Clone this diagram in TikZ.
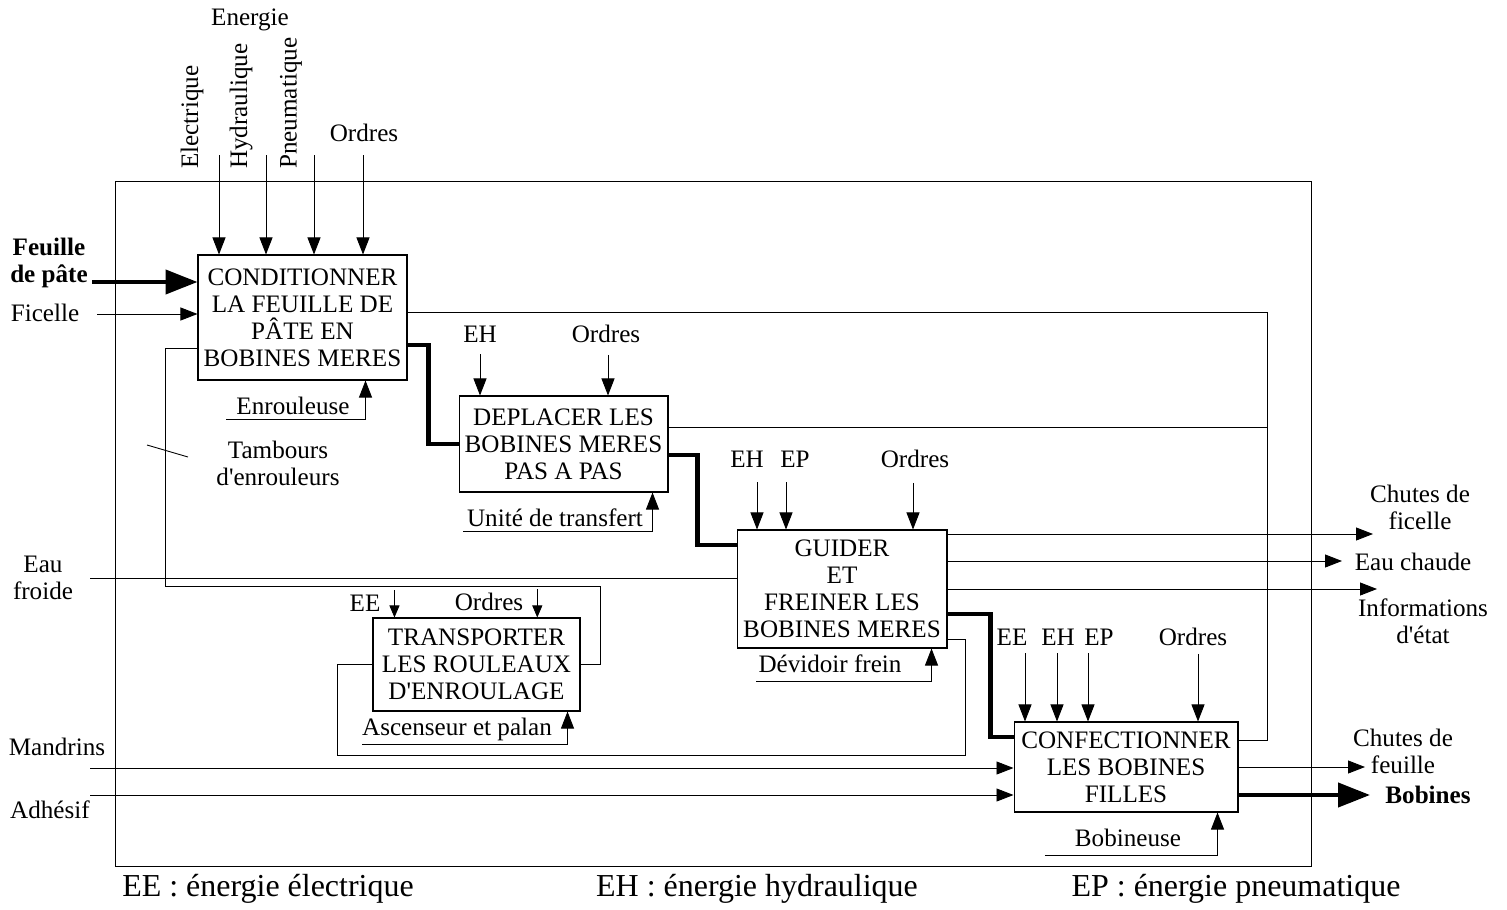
\documentclass[tikz,border=0pt]{standalone}
\usepackage{fontspec}
\setmainfont{Liberation Serif}
\usetikzlibrary{arrows.meta, positioning, calc}
\newcommand{\txt}{\fontsize{14.3}{15.4}\selectfont}
\newcommand{\legtxt}{\fontsize{18.2}{21}\selectfont}

\begin{document}
\begin{tikzpicture}[
  x=0.02cm, y=-0.02cm,
  >={Triangle[length=3.4mm, width=2.6mm]},
  fct/.style={draw, line width=0.6pt, font=\txt, align=center, inner sep=2pt},
  lbl/.style={font=\txt, align=center, inner sep=1pt},
  flow/.style={line width=0.5pt},
  arr/.style={->, flow},
  sarr/.style={-{Triangle[length=2.4mm, width=2mm]}, flow},
  main/.style={line width=2.4pt},
  marr/.style={-{Triangle[length=6.4mm, width=4.8mm]}, main},
]

\useasboundingbox (0,0) rectangle (1507,909);

% Frame
\draw[flow] (115,181) rectangle (1311,866);

% =============================================
% Functions
% =============================================
\node[fct, minimum width=4.18cm, minimum height=2.5cm] (cond) at (302.5,317.5)
  {CONDITIONNER\\LA FEUILLE DE\\PÂTE EN\\BOBINES MERES};
\node[fct, minimum width=4.18cm, minimum height=1.92cm] (depl) at (563.5,444)
  {DEPLACER LES\\BOBINES MERES\\PAS A PAS};
\node[fct, minimum width=4.2cm, minimum height=2.36cm] (guid) at (842,589)
  {GUIDER\\ET\\FREINER LES\\BOBINES MERES};
\node[fct, minimum width=4.48cm, minimum height=1.8cm] (conf) at (1126,767)
  {CONFECTIONNER\\LES BOBINES\\FILLES};
\node[fct, minimum width=4.14cm, minimum height=1.86cm] (transp) at (476.5,664.5)
  {TRANSPORTER\\LES ROULEAUX\\D\textquotesingle ENROULAGE};

% =============================================
% Energie / Ordres (top left)
% =============================================
\node[lbl] (energie) at (250,20) {Energie};
\node[lbl, rotate=90, anchor=west] (elec) at (192,171) {Electrique};
\node[lbl, rotate=90, anchor=west] (hydr) at (241,171) {Hydraulique};
\node[lbl, rotate=90, anchor=west] (pneu) at (291,171) {Pneumatique};
\node[lbl] (ord1) at (364,133) {Ordres};

\coordinate (in1) at (219,155);
\coordinate (in2) at (266,155);
\coordinate (in3) at (314,155);
\coordinate (in4) at (363,155);
\draw[arr] (in1) -- (in1 |- cond.north);
\draw[arr] (in2) -- (in2 |- cond.north);
\draw[arr] (in3) -- (in3 |- cond.north);
\draw[arr] (in4) -- (in4 |- cond.north);

% =============================================
% Inputs (left)
% =============================================
\node[lbl, font=\txt\bfseries] (feuille) at (49,263) {Feuille\\de pâte};
\node[lbl] (ficelle) at (45,313) {Ficelle};
\node[lbl] (eaufr) at (43,578) {Eau\\froide};
\node[lbl] (mandrins) at (57,747) {Mandrins};
\node[lbl] (adhesif) at (50,810) {Adhésif};

\coordinate (fp) at (92,282);
\coordinate (fic) at (97,314);
\coordinate (ef) at (90,578);
\coordinate (mdr) at (90,768);
\coordinate (adh) at (90,795);

\draw[marr] (fp) -- (fp -| cond.west);
\draw[arr] (fic) -- (fic -| cond.west);
\draw[flow] (ef) -- (ef -| guid.west);
\draw[arr] (mdr) -- (mdr -| conf.west);
\draw[arr] (adh) -- (adh -| conf.west);

% =============================================
% Main flow (thick)
% =============================================
\draw[main] ($(cond.east)+(0,27.5)$) -- ++(21,0) |- (depl.west);
\draw[main] ($(depl.east)+(0,11)$) -- ++(29,0) |- ($(guid.west)+(0,-44)$);
\draw[main] ($(guid.east)+(0,25)$) -- ++(43,0) |- ($(conf.west)+(0,-30)$);

% =============================================
% Controls of the other functions
% =============================================
\node[lbl] (eh2) at (480,334) {EH};
\node[lbl] (ord2) at (606,334) {Ordres};
\draw[arr] ($(eh2.south)+(0,10)$) -- (eh2.south |- depl.north);
\draw[arr] ($(ord2.south)+(2,10)$) -- ($(ord2.south |- depl.north)+(2,0)$);

\node[lbl] (eh3) at (747,459) {EH};
\node[lbl] (ep3) at (795,459) {EP};
\node[lbl] (ord3) at (915,459) {Ordres};
\draw[arr] ($(eh3.south)+(10,13)$) -- ($(eh3.south |- guid.north)+(10,0)$);
\draw[arr] ($(ep3.south)+(-9,13)$) -- ($(ep3.south |- guid.north)+(-9,0)$);
\draw[arr] ($(ord3.south)+(-2,13)$) -- ($(ord3.south |- guid.north)+(-2,0)$);

\node[lbl] (ee4) at (1012,637) {EE};
\node[lbl] (eh4) at (1058,637) {EH};
\node[lbl] (ep4) at (1099,637) {EP};
\node[lbl] (ord4) at (1193,637) {Ordres};
\draw[arr] ($(ee4.south)+(13,6)$) -- ($(ee4.south |- conf.north)+(13,0)$);
\draw[arr] ($(eh4.south)+(-1,6)$) -- ($(eh4.south |- conf.north)+(-1,0)$);
\draw[arr] ($(ep4.south)+(-11,6)$) -- ($(ep4.south |- conf.north)+(-11,0)$);
\draw[arr] ($(ord4.south)+(5,6)$) -- ($(ord4.south |- conf.north)+(5,0)$);

\node[lbl] (ee5) at (365,603) {EE};
\node[lbl] (ord5) at (489,602) {Ordres};
\draw[sarr] ($(ee5.east)+(12,-13)$) -- ($(ee5.east |- transp.north)+(12,0)$);
\draw[sarr] ($(ord5.east)+(12,-13)$) -- ($(ord5.east |- transp.north)+(12,0)$);

% =============================================
% Mechanisms
% =============================================
\node[lbl] (enroul) at (293,406) {Enrouleuse};
\node[lbl] (unite) at (555,518) {Unité de transfert};
\node[lbl] (devid) at (830,664) {Dévidoir frein};
\node[lbl] (bobin) at (1128,838) {Bobineuse};
\node[lbl] (ascens) at (457,729) {Ascenseur et palan};

\draw[arr] ($(enroul.south west)+(-8,2)$) -| ($(cond.south east)+(-42,0)$);
\draw[arr] ($(unite.south west)+(-2,2)$) -| ($(depl.south east)+(-16,0)$);
\draw[arr] ($(devid.south west)+(0,6)$) -| ($(guid.south east)+(-16,0)$);
\draw[arr] ($(bobin.south west)+(-28,6)$) -| ($(conf.south east)+(-21,0)$);
\draw[arr] ($(ascens.south west)+(2,2)$) -| ($(transp.south east)+(-13,0)$);

% =============================================
% Loops between functions
% =============================================
\node[lbl] (tambours) at (278,463) {Tambours\\d\textquotesingle enrouleurs};
\coordinate (lead) at (147,445);
\coordinate (lead2) at (188,457);
\draw[flow] (lead) -- (lead2);

\coordinate (tambA) at (165,586);
\coordinate (tambB) at (600,586);
\draw[flow] ($(cond.west)+(0,30.5)$) -| (tambA) -- (tambB) |- (transp.east);

\coordinate (mloopA) at (965,755);
\coordinate (mloopB) at (337,755);
\draw[flow] ($(guid.east)+(0,50)$) -| (mloopA) -- (mloopB) |- (transp.west);

\coordinate (retA) at (1267,740);
\draw[flow] ($(cond.east)+(0,-5.5)$) -| (retA) -- (retA -| conf.east);
\coordinate (dplout) at ($(depl.east)+(0,-17)$);
\draw[flow] (dplout) -- (dplout -| retA);

% =============================================
% Outputs (right)
% =============================================
\node[lbl] (chfic) at (1420,507) {Chutes de\\ficelle};
\node[lbl] (eauch) at (1413,562) {Eau chaude};
\node[lbl] (infos) at (1423,621) {Informations\\d\textquotesingle état};
\node[lbl] (chfeu) at (1403,751) {Chutes de\\feuille};
\node[lbl, font=\txt\bfseries] (bobines) at (1428,795) {Bobines};

\coordinate (outfic) at (1373,534);
\coordinate (outeau) at (1342,561);
\coordinate (outinf) at (1377,589);
\coordinate (outfeu) at (1365,767);
\coordinate (outbob) at (1370,795);

\draw[arr] (outfic -| guid.east) -- (outfic);
\draw[arr] (outeau -| guid.east) -- (outeau);
\draw[arr] (outinf -| guid.east) -- (outinf);
\draw[arr] (outfeu -| conf.east) -- (outfeu);
\draw[marr] (outbob -| conf.east) -- (outbob);

% =============================================
% Legend
% =============================================
\node[font=\legtxt] (legee) at (268,889) {EE : énergie électrique};
\node[font=\legtxt] (legeh) at (757,889) {EH : énergie hydraulique};
\node[font=\legtxt] (legep) at (1236,889) {EP : énergie pneumatique};

\end{tikzpicture}
\end{document}
